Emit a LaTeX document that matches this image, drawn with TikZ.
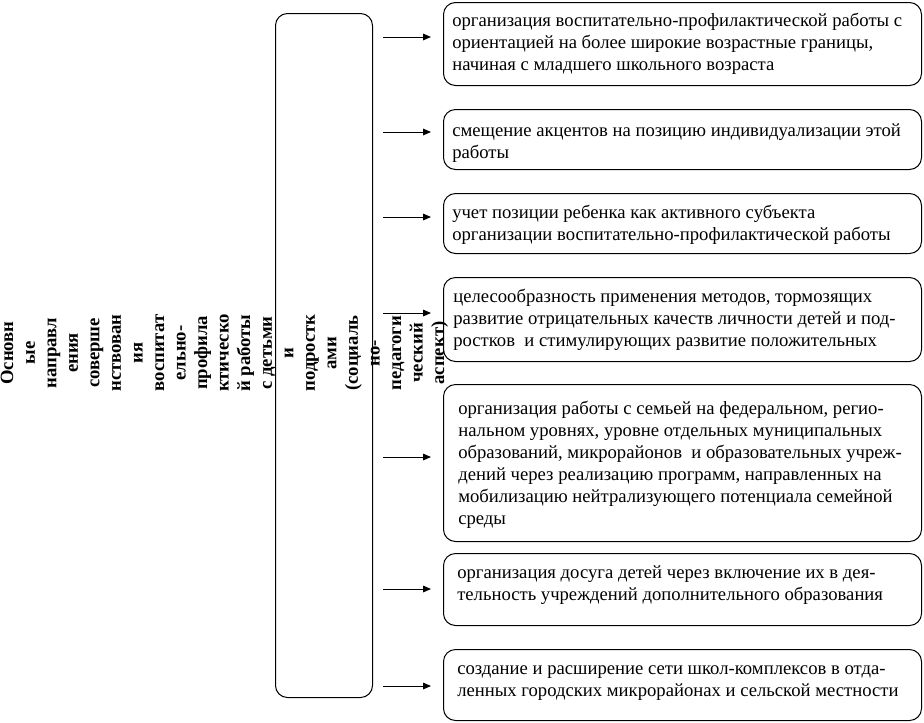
\documentclass[tikz,border=0pt]{standalone}
\usepackage{fontspec}
\setmainfont{Liberation Serif}
\usetikzlibrary{arrows.meta}
\begin{document}
\begin{tikzpicture}[x=0.75pt,y=-0.75pt,
  frame/.style={draw, line width=0.75pt, rounded corners=9pt, inner sep=0pt, anchor=north west},
  txt/.style={anchor=north west, inner sep=0pt, align=left, font=\fontsize{14pt}{16.5pt}\selectfont},
  arr/.style={-{Triangle[length=6pt,width=5pt]}, line width=0.75pt, shorten <=7.5pt, shorten >=9pt}]
\useasboundingbox (0,0) rectangle (924,722);
% central box
\node[frame, minimum width=72.75pt, minimum height=513pt] (c) at (275,13) {};
% rotated title
\node[rotate=90, align=center, inner sep=0pt, font=\bfseries\fontsize{14pt}{16.16pt}\selectfont] (title) at (224.5,353)
 {Основн\\ые\\направл\\ения\\соверше\\нствован\\ия\\воспитат\\ельно-\\профила\\ктическо\\й работы\\с детьми\\и\\подростк\\ами\\(социаль\\но-\\педагоги\\ческий\\аспект)};
% right boxes
\node[frame, minimum width=358.5pt, minimum height=62.25pt] (b1) at (443,2) {};
\node[frame, minimum width=358.5pt, minimum height=45pt] (b2) at (443,109) {};
\node[frame, minimum width=358.5pt, minimum height=45pt] (b3) at (443,193) {};
\node[frame, minimum width=358.5pt, minimum height=63pt] (b4) at (443,277) {};
\node[frame, minimum width=358.5pt, minimum height=117.75pt] (b5) at (443,384) {};
\node[frame, minimum width=358.5pt, minimum height=54pt] (b6) at (443,553) {};
\node[frame, minimum width=358.5pt, minimum height=53.25pt] (b7) at (443,649) {};
% texts
\node[txt] (t1) at (452,10.6) {\strut организация воспитательно-профилактической работы с\\ориентацией на более широкие возрастные границы,\\начиная с младшего школьного возраста};
\node[txt] (t2) at (452,120.6) {\strut смещение акцентов на позицию индивидуализации этой\\работы};
\node[txt] (t3) at (452,202.6) {\strut учет позиции ребенка как активного субъекта\\организации воспитательно-профилактической работы};
\node[txt] (t4) at (453,286.6) {\strut целесообразность применения методов, тормозящих\\развитие отрицательных качеств личности детей и под-\\ростков\ \ и стимулирующих развитие положительных};
\node[txt] (t5) at (458,399) {\strut организация работы с семьей на федеральном, регио-\\нальном уровнях, уровне отдельных муниципальных\\образований, микрорайонов\ \ и образовательных учреж-\\дений через реализацию программ, направленных на\\мобилизацию нейтрализующего потенциала семейной\\среды};
\node[txt] (t6) at (457,562.6) {\strut организация досуга детей через включение их в дея-\\тельность учреждений дополнительного образования};
\node[txt] (t7) at (457,658.6) {\strut создание и расширение сети школ-комплексов в отда-\\ленных городских микрорайонах и сельской местности};
% arrows
\coordinate (y1) at (0,37);
\coordinate (y2) at (0,132);
\coordinate (y3) at (0,217);
\coordinate (y4) at (0,313);
\coordinate (y5) at (0,457);
\coordinate (y6) at (0,589);
\coordinate (y7) at (0,686);
\draw[arr] (c.east |- y1) -- (b1.west |- y1);
\draw[arr] (c.east |- y2) -- (b2.west |- y2);
\draw[arr] (c.east |- y3) -- (b3.west |- y3);
\draw[arr] (c.east |- y4) -- (b4.west |- y4);
\draw[arr] (c.east |- y5) -- (b5.west |- y5);
\draw[arr] (c.east |- y6) -- (b6.west |- y6);
\draw[arr] (c.east |- y7) -- (b7.west |- y7);
\end{tikzpicture}
\end{document}
